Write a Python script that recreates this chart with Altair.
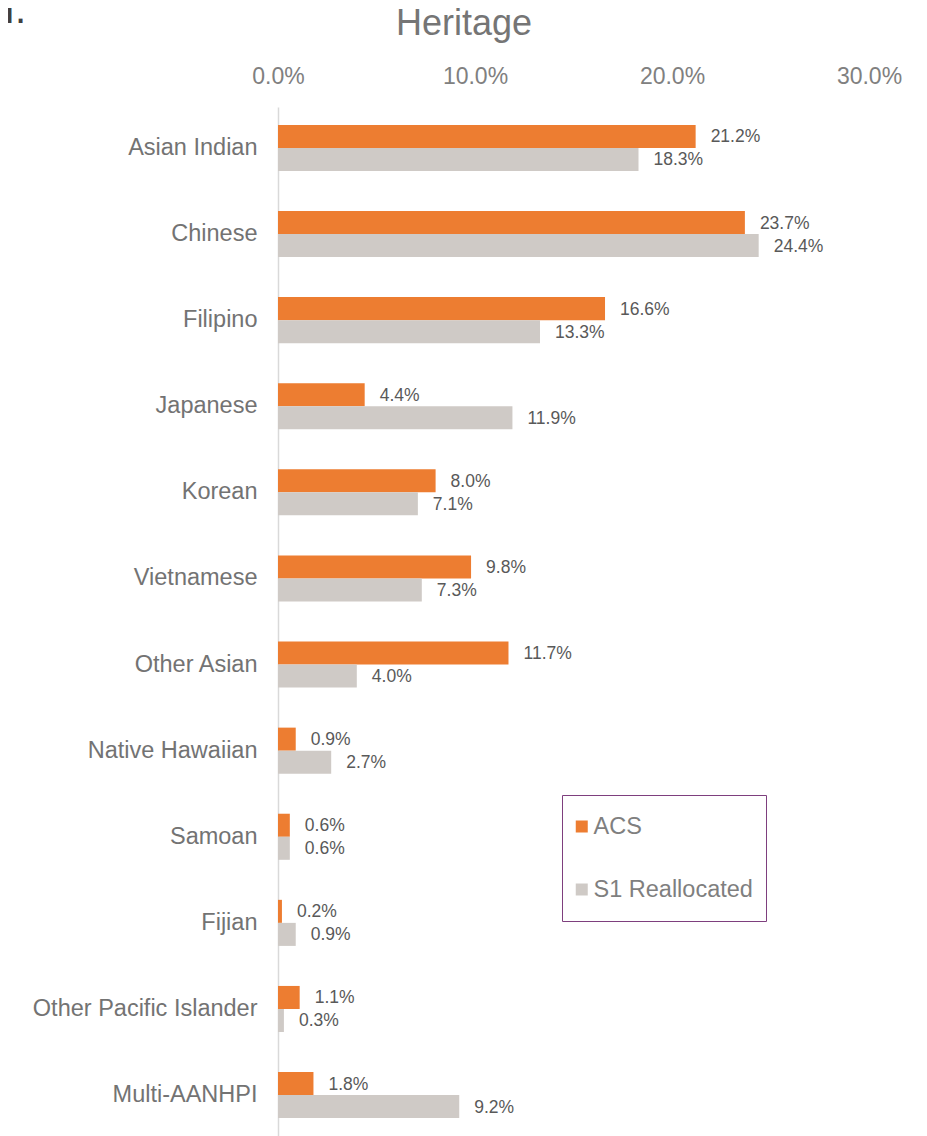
import altair as alt
import pandas as pd

categories = ["Asian Indian", "Chinese", "Filipino", "Japanese", "Korean", "Vietnamese",
              "Other Asian", "Native Hawaiian", "Samoan", "Fijian",
              "Other Pacific Islander", "Multi-AANHPI"]
acs = [21.2, 23.7, 16.6, 4.4, 8.0, 9.8, 11.7, 0.9, 0.6, 0.2, 1.1, 1.8]
s1_reallocated = [18.3, 24.4, 13.3, 11.9, 7.1, 7.3, 4.0, 2.7, 0.6, 0.9, 0.3, 9.2]
series = ["ACS", "S1 Reallocated"]
series_colors = ["#ED7D31", "#CFCAC6"]
x_ticks = [0, 10, 20, 30]
chart_title = "Heritage"
corner_text = "I."

rows = []
for c, a, s in zip(categories, acs, s1_reallocated):
    rows.append({"category": c, "series": "ACS", "value": a})
    rows.append({"category": c, "series": "S1 Reallocated", "value": s})
df = pd.DataFrame(rows)

FONT = "Liberation Sans, Arial, sans-serif"

y = alt.Y(
    "category:N", sort=categories,
    scale=alt.Scale(paddingInner=0.465, paddingOuter=0.2077),
    axis=alt.Axis(title=None, ticks=False, domainColor="#D9D9D9", domainWidth=1.5,
                  labelFontSize=23.5, labelColor="#737373", labelPadding=21, labelFont=FONT,
                  labelLimit=400),
)
yoff = alt.YOffset("series:N", sort=series, scale=alt.Scale(domain=series))
x = alt.X(
    "value:Q", scale=alt.Scale(domain=[0, 30]),
    axis=alt.Axis(orient="top", values=x_ticks, labelExpr="format(datum.value, '.1f') + '%'",
                  grid=False, ticks=False, domain=False, title=None, labelFontSize=23,
                  labelColor="#808080", labelPadding=19, labelFont=FONT, labelFlush=False),
)
color = alt.Color(
    "series:N", sort=series,
    scale=alt.Scale(domain=series, range=series_colors),
    legend=alt.Legend(title=None, orient="none", legendX=284, legendY=688, direction="vertical",
                      symbolType="square", symbolSize=144, symbolStrokeWidth=0,
                      symbolOffset=-5,
                      labelFontSize=23.5, labelColor="#7F7F7F", labelFont=FONT, rowPadding=26,
                      clipHeight=37, padding=13, strokeColor="#7E3F7E", fillColor="white",
                      labelOffset=0),
)

bars = alt.Chart(df).mark_bar().encode(x=x, y=y, yOffset=yoff, color=color)

labels = alt.Chart(df).transform_calculate(
    label="format(datum.value, '.1f') + '%'"
).mark_text(align="left", baseline="middle", dx=15, dy=1, fontSize=17.5, color="#595959", font=FONT).encode(
    x="value:Q", y=alt.Y("category:N", sort=categories), yOffset=yoff, text="label:N"
)

title_mark = alt.Chart(pd.DataFrame({"t": [chart_title]})).mark_text(
    align="center", baseline="alphabetic", fontSize=36, color="#757575", font=FONT
).encode(x=alt.value(186), y=alt.value(-72), text="t:N")

stray = alt.Chart(pd.DataFrame({"t": [corner_text]})).mark_text(
    align="left", baseline="alphabetic", fontSize=40, color="#404040", font=FONT
).encode(x=alt.value(-274), y=alt.value(-84), text="t:N")

chart = alt.layer(bars, labels, title_mark, stray).properties(
    width=591, height=1029,
    padding={"left": 270, "top": 99, "right": 40, "bottom": 0},
    autosize=alt.AutoSizeParams(type="none"),
).configure_view(stroke=None)

chart.save("out.html", embed_options={"renderer": "svg", "actions": False})
